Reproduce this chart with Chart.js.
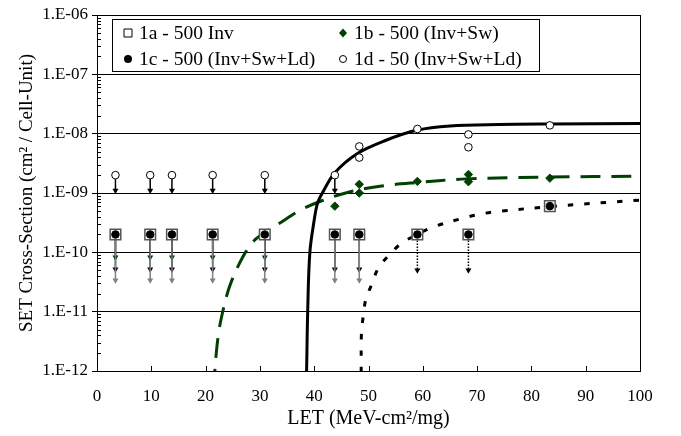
<!DOCTYPE html>
<html>
<head>
<meta charset="utf-8">
<script src="https://cdn.jsdelivr.net/npm/chart.js@4.4.1/dist/chart.umd.min.js"></script>
<style>
  html, body { margin: 0; padding: 0; background: #fff; }
  #wrap { width: 681px; height: 436px; position: relative; }
</style>
</head>
<body>
<div id="wrap"><canvas id="setChart"></canvas></div>
<script>
// measured points, LET in MeV-cm2/mg, cross-section in cm2 per cell-unit
const let1a = [3.4, 9.8, 13.8, 21.3, 30.9, 43.8, 48.3, 59.0, 68.4, 83.4];
const sigma1a = [2e-10, 2e-10, 2e-10, 2e-10, 2e-10, 2e-10, 2e-10, 2e-10, 2e-10, 6e-10];
const let1b = [43.8, 48.3, 48.3, 59.0, 68.4, 68.4, 83.4];
const sigma1b = [6e-10, 1.4e-9, 1.0e-9, 1.57e-9, 2.05e-9, 1.55e-9, 1.78e-9];
const let1c = [3.4, 9.8, 13.8, 21.3, 30.9, 43.8, 48.3, 59.0, 68.4, 83.4];
const sigma1c = [2e-10, 2e-10, 2e-10, 2e-10, 2e-10, 2e-10, 2e-10, 2e-10, 2e-10, 6e-10];
const let1d = [3.4, 9.8, 13.8, 21.3, 30.9, 43.8, 48.3, 48.3, 59.0, 68.4, 68.4, 83.4];
const sigma1d = [2e-9, 2e-9, 2e-9, 2e-9, 2e-9, 2e-9, 6.1e-9, 3.95e-9, 1.2e-8, 9.7e-9, 5.9e-9, 1.38e-8];

// upper limits (no upset seen) -> arrows pointing down
const arrow1dLet = [3.4, 9.8, 13.8, 21.3, 30.9, 43.8];
const arrow1dTop = [2e-9, 2e-9, 2e-9, 2e-9, 2e-9, 2e-9];
const arrow1dEnd = [1.1e-9, 1.1e-9, 1.1e-9, 1.1e-9, 1.1e-9, 1.1e-9];
const arrow1bLet = [3.4, 9.8, 13.8, 21.3, 30.9];
const arrow1bTop = [2e-10, 2e-10, 2e-10, 2e-10, 2e-10];
const arrow1bEnd = [8.3e-11, 8.3e-11, 8.3e-11, 8.3e-11, 8.3e-11];
const arrow1cLet = [3.4, 9.8, 13.8, 21.3, 30.9, 43.8, 48.3];
const arrow1cTop = [2e-10, 2e-10, 2e-10, 2e-10, 2e-10, 2e-10, 2e-10];
const arrow1cEnd = [5.2e-11, 5.2e-11, 5.2e-11, 5.2e-11, 5.2e-11, 5.2e-11, 5.2e-11];
const arrow1cDotLet = [59.0, 68.4];
const arrow1cDotTop = [2e-10, 2e-10];
const arrow1cDotEnd = [5e-11, 5e-11];
const arrow1aLet = [3.4, 9.8, 13.8, 21.3, 30.9, 43.8, 48.3];
const arrow1aTop = [2e-10, 2e-10, 2e-10, 2e-10, 2e-10, 2e-10, 2e-10];
const arrow1aEnd = [3.4e-11, 3.4e-11, 3.4e-11, 3.4e-11, 3.4e-11, 3.4e-11, 3.4e-11];

// fitted curves
const fitLet1d = [38.5, 38.6, 38.8, 39.2, 40.0, 40.6, 41.5, 43.8, 47.9, 53.0, 59.0, 65.0, 74.0, 83.4, 100];
const fitSig1d = [5e-13, 1e-12, 1e-11, 1e-10, 3.5e-10, 6.7e-10, 1e-9, 2.2e-9, 4.6e-9, 7.6e-9, 1.15e-8, 1.35e-8, 1.43e-8, 1.46e-8, 1.49e-8];
const fitLet1b = [21.6, 21.7, 22.3, 23.1, 24.5, 26.9, 29.0, 31.0, 33.4, 37.4, 41.4, 46.3, 52.1, 58.9, 68.0, 83.4, 100];
const fitSig1b = [5e-13, 1e-12, 3.8e-12, 9.5e-12, 2.8e-11, 8.5e-11, 1.6e-10, 2.2e-10, 3.0e-10, 5.1e-10, 7.4e-10, 1.03e-9, 1.3e-9, 1.5e-9, 1.73e-9, 1.86e-9, 1.92e-9];
const fitLet1c = [48.6, 48.65, 48.7, 49.0, 49.5, 50.6, 51.8, 53.8, 56.1, 59.0, 61.8, 67.8, 71.1, 74.0, 83.4, 100];
const fitSig1c = [5e-13, 1e-12, 4.4e-12, 8e-12, 1.6e-11, 2.9e-11, 5.4e-11, 9e-11, 1.43e-10, 2e-10, 2.65e-10, 3.85e-10, 4.5e-10, 4.9e-10, 5.9e-10, 7.6e-10];

const letTicks = [0, 10, 20, 30, 40, 50, 60, 70, 80, 90, 100];
const sigmaTicks = [1e-12, 1e-11, 1e-10, 1e-9, 1e-8, 1e-7, 1e-6];
const legendLabels = ['1a - 500 Inv', '1b - 500 (Inv+Sw)', '1c - 500 (Inv+Sw+Ld)', '1d - 50 (Inv+Sw+Ld)'];

const GREEN = '#004000';
const GRAY = '#808080';
const SERIF = '"Liberation Serif", "Times New Roman", serif';

const pts = (xs, ys) => xs.map((x, i) => ({ x, y: ys[i] }));

function arrowPoints(xs, top, end) {
  const out = [];
  xs.forEach((x, i) => out.push({ x, y: top[i] }, { x, y: end[i] }, { x, y: null }));
  return out;
}

function arrowSet(xs, top, end, color, dash, order) {
  return {
    data: arrowPoints(xs, top, end),
    borderColor: color,
    borderWidth: 1.5,
    borderDash: dash,
    spanGaps: false,
    pointStyle: 'triangle',
    pointRotation: 180,
    pointRadius: c => (c.dataIndex % 3 === 1 ? 3.5 : 0),
    pointBackgroundColor: color,
    pointBorderColor: color,
    pointBorderWidth: 0,
    order
  };
}

function fitSet(xs, ys, color, dash, order) {
  return {
    data: pts(xs, ys),
    borderColor: color,
    borderWidth: 3,
    borderDash: dash,
    pointRadius: 0,
    tension: 0.35,
    order
  };
}

// axis frame bits Excel draws: inner ticks, minor log ticks, right edge, legend box
const frame = {
  id: 'frame',
  afterDraw(chart) {
    const { ctx, chartArea: a, scales: { x, y } } = chart;
    ctx.save();
    ctx.strokeStyle = '#000';
    ctx.lineWidth = 1;
    ctx.beginPath();
    ctx.moveTo(Math.round(a.right) + 0.5, a.top);
    ctx.lineTo(Math.round(a.right) + 0.5, a.bottom);
    letTicks.forEach(v => {
      const px = Math.round(x.getPixelForValue(v)) + 0.5;
      ctx.moveTo(px, a.bottom);
      ctx.lineTo(px, a.bottom - 5);
    });
    for (let e = -12; e < -6; e++) {
      for (let m = 2; m <= 9; m++) {
        const py = Math.round(y.getPixelForValue(m * Math.pow(10, e))) + 0.5;
        ctx.moveTo(a.left, py);
        ctx.lineTo(a.left + 4, py);
      }
    }
    ctx.stroke();

    // legend
    const bx = 112, by = 19, bw = 427, bh = 52;
    ctx.fillStyle = '#fff';
    ctx.fillRect(bx, by, bw, bh);
    ctx.strokeRect(bx + 0.5, by + 0.5, bw, bh);
    const rows = [33, 59];
    const cols = [128, 343];
    ctx.font = '19.5px ' + SERIF;
    ctx.textBaseline = 'middle';
    legendLabels.forEach((t, i) => {
      const cx = cols[i % 2], cy = rows[Math.floor(i / 2)];
      ctx.fillStyle = '#000';
      ctx.fillText(t, cx + 11, cy + 1);
      ctx.beginPath();
      if (i === 0) {
        ctx.fillStyle = '#fff';
        ctx.rect(cx - 4, cy - 4, 8, 8);
        ctx.fill();
        ctx.strokeStyle = '#000';
        ctx.stroke();
      } else if (i === 1) {
        ctx.fillStyle = GREEN;
        ctx.moveTo(cx, cy - 4.5); ctx.lineTo(cx + 4, cy); ctx.lineTo(cx, cy + 4.5); ctx.lineTo(cx - 4, cy);
        ctx.closePath();
        ctx.fill();
      } else if (i === 2) {
        ctx.fillStyle = '#000';
        ctx.arc(cx, cy, 4, 0, Math.PI * 2);
        ctx.fill();
      } else {
        ctx.fillStyle = '#fff';
        ctx.arc(cx, cy, 3.5, 0, Math.PI * 2);
        ctx.fill();
        ctx.strokeStyle = '#000';
        ctx.stroke();
      }
    });
    ctx.restore();
  }
};

document.addEventListener('DOMContentLoaded', () => {
  const ctx = document.getElementById('setChart');

  new Chart(ctx, {
    type: 'line',
    data: {
      datasets: [
        // markers (low order = drawn on top)
        { label: legendLabels[3], data: pts(let1d, sigma1d), showLine: false, pointStyle: 'circle', pointRadius: 3.8,
          pointBackgroundColor: '#fff', pointBorderColor: '#000', pointBorderWidth: 1, order: 0 },
        { label: legendLabels[2], data: pts(let1c, sigma1c), showLine: false, pointStyle: 'circle', pointRadius: 3.8,
          pointBackgroundColor: '#000', pointBorderColor: '#000', pointBorderWidth: 1, order: 1 },
        { label: legendLabels[1], data: pts(let1b, sigma1b), showLine: false, pointStyle: 'rectRot', pointRadius: 4.2,
          pointBackgroundColor: GREEN, pointBorderColor: GREEN, pointBorderWidth: 1, order: 2 },
        { label: legendLabels[0], data: pts(let1a, sigma1a), showLine: false, pointStyle: 'rect', pointRadius: 7.5,
          pointBackgroundColor: '#fff', pointBorderColor: '#555', pointBorderWidth: 1.5, order: 3 },
        // arrows
        arrowSet(arrow1aLet, arrow1aTop, arrow1aEnd, GRAY, [], 4),
        arrowSet(arrow1cLet, arrow1cTop, arrow1cEnd, '#000', [], 5),
        arrowSet(arrow1bLet, arrow1bTop, arrow1bEnd, GREEN, [], 6),
        arrowSet(arrow1cDotLet, arrow1cDotTop, arrow1cDotEnd, '#000', [1.5, 1.5], 5),
        arrowSet(arrow1dLet, arrow1dTop, arrow1dEnd, '#000', [], 5),
        // fits
        fitSet(fitLet1d, fitSig1d, '#000', [], 10),
        fitSet(fitLet1b, fitSig1b, GREEN, [20, 11], 11),
        fitSet(fitLet1c, fitSig1c, '#000', [5.5, 11], 12)
      ]
    },
    options: {
      responsive: true,
      maintainAspectRatio: false,
      animation: false,
      events: [],
      layout: { padding: { left: 0, top: 15, right: 41, bottom: 0 } },
      plugins: {
        legend: { display: false },
        tooltip: { enabled: false }
      },
      scales: {
        x: {
          type: 'linear',
          min: 0,
          max: 100,
          afterBuildTicks: s => { s.ticks = letTicks.map(v => ({ value: v })); },
          afterFit: s => { s.height = 65; },
          grid: { drawOnChartArea: false, drawTicks: false },
          border: { color: '#000', width: 1 },
          ticks: { color: '#000', padding: 15, maxRotation: 0, font: { family: SERIF, size: 17 } },
          title: {
            display: true,
            text: 'LET (MeV-cm²/mg)',
            color: '#000',
            font: { family: SERIF, size: 20 },
            padding: { top: 0, bottom: 5 }
          }
        },
        y: {
          type: 'logarithmic',
          min: 1e-12,
          max: 1e-6,
          afterBuildTicks: s => { s.ticks = sigmaTicks.map(v => ({ value: v })); },
          afterFit: s => { s.width = 97; },
          grid: { color: '#000', lineWidth: 1, tickLength: 5 },
          border: { color: '#000', width: 1 },
          ticks: {
            color: '#000',
            padding: 4,
            font: { family: SERIF, size: 17 },
            callback: v => '1.E-' + String(-Math.round(Math.log10(v))).padStart(2, '0')
          },
          title: {
            display: true,
            text: 'SET Cross-Section (cm² / Cell-Unit)',
            color: '#000',
            font: { family: SERIF, size: 19 },
            padding: { top: 16, bottom: 0 }
          }
        }
      }
    },
    plugins: [frame]
  });
});
</script>
</body>
</html>
